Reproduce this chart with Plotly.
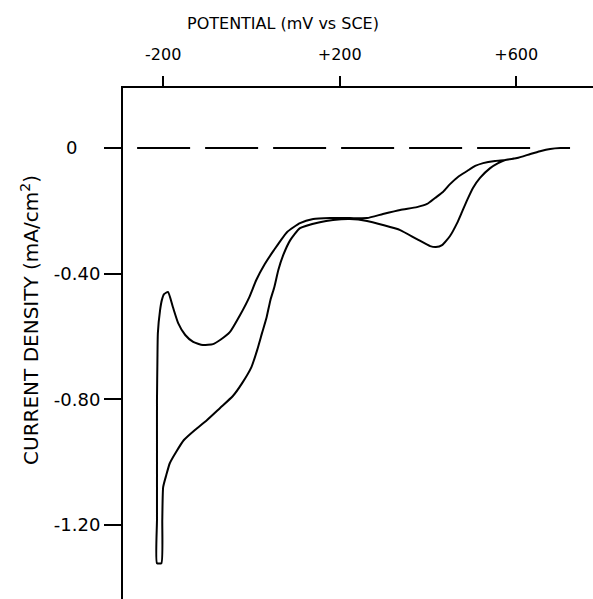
import plotly.graph_objects as go

# Cathodic sweep (from +720 mV towards -200 mV)
cath_potential = [722, 700, 677, 654, 632, 602, 575, 559, 541, 518, 502, 489, 477, 466, 450,
                  432, 418, 405, 375, 337, 298, 262, 223, 185, 155, 110, 88, 72, 61, 52, 43,
                  34, 24, 13, 0, -21, -42, -71, -101, -128, -153, -171, -185, -193, -200,
                  -202, -204]
cath_current = [0, 0, -0.003, -0.010, -0.019, -0.032, -0.038, -0.048, -0.064, -0.095, -0.127,
                -0.165, -0.204, -0.239, -0.280, -0.309, -0.315, -0.312, -0.290, -0.261,
                -0.245, -0.232, -0.226, -0.229, -0.236, -0.255, -0.293, -0.341, -0.388,
                -0.442, -0.484, -0.541, -0.589, -0.643, -0.697, -0.748, -0.789, -0.827,
                -0.866, -0.897, -0.929, -0.968, -1.003, -1.041, -1.079, -1.184, -1.321]

# Return sweep (from -214 mV back to +720 mV)
ret_potential = [-214, -214, -214, -214, -214, -213, -212, -207, -203, -198, -189, -178, -166,
                 -150, -132, -110, -87, -71, -49, -26, -5, 11, 30, 51, 81, 110, 140, 178, 223,
                 262, 298, 337, 375, 398, 416, 434, 450, 468, 489, 507, 525, 552, 575, 602,
                 632, 654, 677, 700, 722]
ret_current = [-1.321, -1.184, -1.05, -0.929, -0.802, -0.675, -0.589, -0.516, -0.484, -0.465,
               -0.458, -0.506, -0.557, -0.595, -0.617, -0.627, -0.624, -0.611, -0.586, -0.532,
               -0.475, -0.420, -0.370, -0.325, -0.267, -0.239, -0.226, -0.223, -0.223,
               -0.223, -0.210, -0.197, -0.188, -0.178, -0.159, -0.140, -0.115, -0.092,
               -0.073, -0.057, -0.048, -0.041, -0.038, -0.032, -0.019, -0.010, -0.003, 0, 0]

zero_line_x = [-259, 632]
zero_line_y = [0, 0]

x_tickvals = [-200, 200, 600]
x_ticktext = ["-200", "+200", "+600"]
y_tickvals = [0, -0.4, -0.8, -1.2]
y_ticktext = ["0\u00a0\u00a0\u00a0\u00a0", "-0.40", "-0.80", "-1.20"]

FONT = "DejaVu Sans"

fig = go.Figure()
fig.add_trace(go.Scatter(
    x=zero_line_x, y=zero_line_y, mode="lines",
    line=dict(color="black", width=2, dash="53px,15px"),
    showlegend=False, hoverinfo="skip"))
fig.add_trace(go.Scatter(
    x=cath_potential + ret_potential, y=cath_current + ret_current, mode="lines",
    line=dict(color="black", width=2, shape="spline", smoothing=0.5),
    showlegend=False))

fig.update_layout(
    width=593, height=599,
    margin=dict(l=123, r=0, t=88, b=0),
    plot_bgcolor="white", paper_bgcolor="white",
    font=dict(family=FONT, color="black"),
    xaxis=dict(
        side="top", range=[-291, 774], showgrid=False, zeroline=False,
        showline=True, linecolor="black", linewidth=2,
        ticks="outside", ticklen=10, tickwidth=2, tickcolor="black",
        tickvals=x_tickvals, ticktext=x_ticktext,
        tickfont=dict(family=FONT, size=16, color="black"),
        ticklabelstandoff=10,
    ),
    yaxis=dict(
        range=[-1.435, 0.191], showgrid=False, zeroline=False,
        showline=True, linecolor="black", linewidth=2,
        ticks="outside", ticklen=17, tickwidth=2, tickcolor="black",
        tickvals=y_tickvals, ticktext=y_ticktext,
        tickfont=dict(family=FONT, size=18, color="black"),
    ),
    annotations=[
        dict(text="POTENTIAL (mV vs SCE)", xref="paper", yref="paper",
             x=0.34, y=1.127, xanchor="center", yanchor="middle", showarrow=False,
             font=dict(family=FONT, size=16, color="black")),
        dict(text="CURRENT DENSITY (mA/cm<sup>2</sup>)", xref="paper", yref="paper",
             x=-0.198, y=0.546, xanchor="center", yanchor="middle",
             showarrow=False, textangle=-90,
             font=dict(family=FONT, size=20, color="black")),
    ],
)

fig.write_html("out.html")
